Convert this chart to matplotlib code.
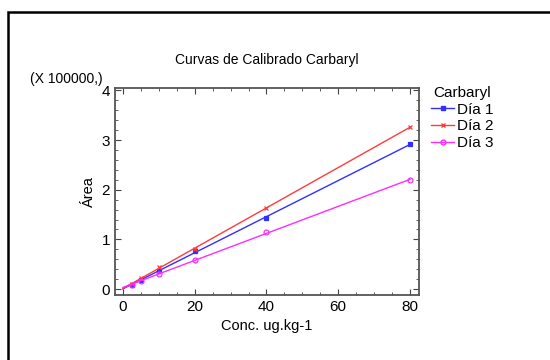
import numpy as np
import matplotlib.pyplot as plt
from matplotlib.patches import Rectangle
from matplotlib.ticker import MultipleLocator

plt.rcParams['font.family'] = ['Liberation Sans', 'DejaVu Sans']

conc = [2.5, 5, 10, 20, 40, 80]
dia1 = [0.09, 0.18, 0.37, 0.76, 1.43, 2.92]
dia2 = [0.10, 0.22, 0.44, 0.80, 1.64, 3.26]
dia3 = [0.09, 0.16, 0.31, 0.58, 1.14, 2.20]

series = [('Día 1', dia1, '#3030ff', 's', 'full'),
          ('Día 2', dia2, '#ff3b3b', 'x', 'full'),
          ('Día 3', dia3, '#ff2bff', 'o', 'none')]

fig = plt.figure(figsize=(5.5, 3.6), dpi=100)
ax = fig.add_axes([115/550, 1 - 295/360, (419-115)/550, (295-88)/360])

xs = np.array([0, 80])
for name, vals, col, mk, fill in series:
    b, a = np.polyfit(conc, vals, 1)
    ax.plot(xs, a + b*xs, color=col, lw=1)
    ax.plot(conc, vals, linestyle='none', marker=mk, color=col,
            markersize=3.5, fillstyle=fill, markeredgewidth=0.9)
    ax.plot([], [], color=col, lw=1, marker=mk, markersize=3.5,
            fillstyle=fill, label=name)

ax.set_xlim(-2.2, 82.5)
ax.set_ylim(-0.12, 4.05)
ax.set_xticks([0, 20, 40, 60, 80])
ax.set_yticks([0, 1, 2, 3, 4])
ax.xaxis.set_minor_locator(MultipleLocator(5))
ax.yaxis.set_minor_locator(MultipleLocator(0.2))
ax.tick_params(which='both', direction='in', top=True, right=True,
               color='#444444', labelsize=11)
ax.tick_params(which='major', length=4)
ax.tick_params(which='minor', length=2.5)
for s in ax.spines.values():
    s.set_color('#555555')
    s.set_linewidth(1.3)

ax.set_title('Curvas de Calibrado Carbaryl', fontsize=10, pad=17)
ax.set_xlabel('Conc. ug.kg-1', fontsize=10.5)
ax.set_ylabel('Área', fontsize=10.5)
fig.text(30/550, 1 - 79/360, '(X 100000,)', fontsize=10, va='center')

leg = ax.legend(title='Carbaryl', loc='upper left', bbox_to_anchor=(1.02, 1.04),
                frameon=False, fontsize=11, title_fontsize=11,
                handlelength=1.5, handletextpad=0.2, labelspacing=0.18,
                borderaxespad=0)

fig.patches.append(Rectangle((8/550, -0.1), 1.2, 1 - 12/360 + 0.1,
                             transform=fig.transFigure, fill=False,
                             edgecolor='black', lw=1.8))

fig.savefig('out.png', dpi=100)
